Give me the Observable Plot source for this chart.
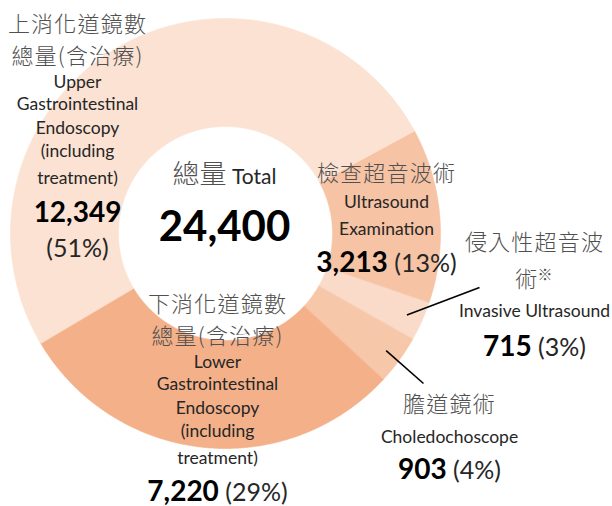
<!DOCTYPE html>
<html>
<head>
<meta charset="utf-8">
<script src="https://cdn.jsdelivr.net/npm/d3@7"></script>
<script src="https://cdn.jsdelivr.net/npm/@observablehq/plot@0.6"></script>
<style>
  body { margin: 0; background: #fff; }
  #chart svg { display: block; }
</style>
</head>
<body>
<div id="chart"></div>
<script>
// ---------- DATA ----------
const categories = ["檢查超音波術", "侵入性超音波術※", "膽道鏡術", "下消化道鏡數總量(含治療)", "上消化道鏡數總量(含治療)"];
const values = [3213, 715, 903, 7220, 12349];
const pctLabels = ["13%", "3%", "4%", "29%", "51%"];
const cjkLines = [
  ["檢查超音波術"],
  ["侵入性超音波", "術※"],
  ["膽道鏡術"],
  ["下消化道鏡數", "總量(含治療)"],
  ["上消化道鏡數", "總量(含治療)"]
];
const enLines = [
  ["Ultrasound", "Examination"],
  ["Invasive Ultrasound"],
  ["Choledochoscope"],
  ["Lower", "Gastrointestinal", "Endoscopy", "(including", "treatment)"],
  ["Upper", "Gastrointestinal", "Endoscopy", "(including", "treatment)"]
];
const centerTitle = ["總量", "Total"];

// ---------- LAYOUT / STYLE ----------
const W = 612, H = 506;
const cx = 225, cy = 233, rOuter = 215, rInner = 107;
const startDeg = 61.5;
const colors = ["#F6C3A4", "#FADBC9", "#F7C7AA", "#F3B089", "#FBE2D3"];
const cjkSize = 22;
// cjk: [first line centre y, line gap]
const labelLayout = [
  {x: 386, cjk: [173, 0],  en: [202, 229], val: [263]},
  {x: 534, cjk: [238, 37], en: [311], val: [347]},
  {x: 449, cjk: [404, 0],  en: [437], val: [470]},
  {x: 217, cjk: [301.5, 32], en: [362, 384, 408, 431, 458], val: [492]},
  {x: 77,  cjk: [21.5, 32],  en: [82, 104, 128, 151, 178], val: [213, 248]}
];
const leaderEnds = [null, [479, 287], [423, 383], null, null];
const centerLayout = {x: 224, titleY: 177, totalY: 227};
const EN = "Lato, 'Open Sans', sans-serif";
const CJK = "'Noto Sans CJK TC', 'Noto Sans CJK SC', sans-serif";

// ---------- GEOMETRY FROM DATA ----------
const a0 = startDeg * Math.PI / 180;
const arcs = d3.pie().sort(null).startAngle(a0).endAngle(a0 + 2 * Math.PI)(values);
const pt = (r, a) => ({x: cx + r * Math.sin(a), y: cy - r * Math.cos(a)});
const ringPts = [];
arcs.forEach((arc, i) => {
  const n = Math.max(2, Math.ceil((arc.endAngle - arc.startAngle) / (0.4 * Math.PI / 180)));
  const key = categories[i];
  for (let k = 0; k <= n; k++) {
    const a = arc.startAngle + (arc.endAngle - arc.startAngle) * k / n;
    ringPts.push({key, ...pt(rOuter, a)});
  }
  for (let k = n; k >= 0; k--) {
    const a = arc.startAngle + (arc.endAngle - arc.startAngle) * k / n;
    ringPts.push({key, ...pt(rInner, a)});
  }
});

const leaders = [];
arcs.forEach((arc, i) => {
  if (!leaderEnds[i]) return;
  const mid = (arc.startAngle + arc.endAngle) / 2;
  const p = pt(rOuter * 0.925, mid);
  leaders.push({x1: p.x, y1: p.y, x2: leaderEnds[i][0], y2: leaderEnds[i][1]});
});

const fmt = d3.format(",");
const rows = [];
labelLayout.forEach((L, i) => {
  enLines[i].forEach((t, j) => rows.push({kind: "en", text: t, x: L.x, y: L.en[j]}));
  const v = fmt(values[i]), p = `(${pctLabels[i]})`;
  if (L.val.length === 2) {
    rows.push({kind: "num", text: v, x: L.x, y: L.val[0]});
    rows.push({kind: "pct", text: p, x: L.x, y: L.val[1]});
  } else {
    rows.push({kind: "mixed", text: v + " " + p, x: L.x, y: L.val[0]});
  }
});
const total = d3.sum(values);
const centerRows = [
  {kind: "title", text: centerTitle.join(" "), x: centerLayout.x, y: centerLayout.titleY},
  {kind: "total", text: fmt(total), x: centerLayout.x, y: centerLayout.totalY}
];
const by = k => rows.concat(centerRows).filter(d => d.kind === k);

// CJK label blocks: one multi-line text per category
const cjkMarks = labelLayout.map((L, i) => {
  const lines = cjkLines[i];
  const gap = L.cjk[1] || cjkSize;
  const yMid = L.cjk[0] + gap * (lines.length - 1) / 2;
  return Plot.text([{text: lines.join("\n"), x: L.x, y: yMid}], {
    x: "x", y: "y", text: "text", lineHeight: gap / cjkSize,
    fontFamily: CJK, fontSize: cjkSize, fontWeight: 300, fill: "#505050", ariaDescription: "cjk"
  });
});

const chart = Plot.plot({
  width: W, height: H, margin: 0,
  x: {domain: [0, W], range: [0, W], axis: null},
  y: {domain: [0, H], range: [0, H], axis: null},
  color: {domain: categories, range: colors},
  style: {background: "#fff"},
  marks: [
    Plot.line(ringPts, {x: "x", y: "y", z: "key", fill: "key", stroke: "key", strokeWidth: 0.6, curve: "linear-closed"}),
    Plot.link(leaders, {x1: "x1", y1: "y1", x2: "x2", y2: "y2", stroke: "#000", strokeWidth: 1.6}),
    ...cjkMarks,
    Plot.text(by("en"), {x: "x", y: "y", text: "text", fontFamily: EN, fontSize: 17.5, fill: "#262626"}),
    Plot.text(by("num"), {x: "x", y: "y", text: "text", fontFamily: EN, fontSize: 28, fontWeight: "bold", fill: "#000"}),
    Plot.text(by("pct"), {x: "x", y: "y", text: "text", fontFamily: EN, fontSize: 25, fill: "#262626"}),
    Plot.text(by("mixed"), {x: "x", y: "y", text: "text", fontFamily: EN, fontSize: 28, fontWeight: "bold", fill: "#000", ariaDescription: "mixed"}),
    Plot.text(by("title"), {x: "x", y: "y", text: "text", fontFamily: EN, fontSize: 21, fill: "#262626", ariaDescription: "title"}),
    Plot.text(by("total"), {x: "x", y: "y", text: "text", fontFamily: EN, fontSize: 42, fontWeight: "bold", fill: "#000"})
  ]
});

const pick = name => d3.select(chart).selectAll(`g[aria-description="${name}"] text, text[aria-description="${name}"]`);

// mixed weight lines: bold count + regular percentage
pick("mixed").each(function() {
  const s = this.textContent;
  const idx = s.indexOf(" ");
  const sel = d3.select(this);
  sel.text(null);
  sel.append("tspan").text(s.slice(0, idx));
  sel.append("tspan").style("font-weight", "400").style("font-size", "25px").style("fill", "#262626").text(s.slice(idx));
});
pick("title").each(function() {
  const s = this.textContent;
  const idx = s.indexOf(" ");
  const sel = d3.select(this);
  sel.text(null);
  sel.append("tspan").style("font-family", CJK).style("font-size", "27px").style("font-weight", "300").style("fill", "#505050").text(s.slice(0, idx));
  sel.append("tspan").text(s.slice(idx));
});
// slightly open CJK spacing; small raised reference mark
pick("cjk").style("letter-spacing", "1.2px").each(function() {
  const tspans = this.querySelectorAll("tspan");
  const targets = tspans.length ? Array.from(tspans) : [this];
  targets.forEach(el => {
    const s = el.textContent;
    if (!s.endsWith("※")) return;
    const sel = d3.select(el);
    sel.text(null);
    sel.append("tspan").text(s.slice(0, -1));
    sel.append("tspan").style("font-size", "15px").attr("dy", "-0.5em").attr("dx", "-1").text("※");
  });
});

document.getElementById("chart").appendChild(chart);
</script>
</body>
</html>
